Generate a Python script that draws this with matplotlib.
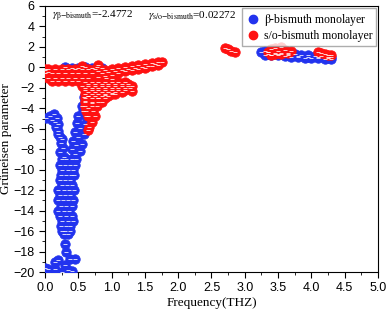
import matplotlib
matplotlib.use("Agg")
import matplotlib.pyplot as plt
from matplotlib.ticker import MultipleLocator
from matplotlib.lines import Line2D

plt.rcParams['mathtext.fontset'] = 'stix'

# ---- beta-bismuth monolayer (blue) ----
beta_x = [0.02, 0.08, 0.13, 0.18, 0.20, 0.19, 0.22, 0.24, 0.27, 0.23, 0.28,
          0.10, 0.15, 0.17, 0.20, 0.25,
          0.58, 0.60, 0.55, 0.57, 0.50, 0.48, 0.52, 0.45, 0.50, 0.42, 0.47, 0.40, 0.45, 0.52, 0.55, 0.58, 0.60, 0.62, 0.65, 0.70,
          0.25, 0.32, 0.40, 0.47,
          0.22, 0.30, 0.38, 0.45,
          0.26, 0.34, 0.42,
          0.24, 0.31, 0.39, 0.44,
          0.22, 0.30, 0.37,
          0.25, 0.33, 0.41,
          0.20, 0.28, 0.36, 0.43,
          0.22, 0.30, 0.38,
          0.20, 0.27, 0.35, 0.42,
          0.24, 0.32, 0.40,
          0.20, 0.28, 0.36,
          0.23, 0.31, 0.40,
          0.26, 0.34, 0.42,
          0.24, 0.32, 0.38,
          0.25, 0.30, 0.37,
          0.28, 0.35,
          0.30, 0.32, 0.20, 0.15, 0.38, 0.45, 0.30, 0.05, 0.15, 0.35, 0.40, 0.00, 0.25,
          0.30, 0.40, 0.50, 0.60, 0.70, 0.78, 0.85, 0.05, 0.00, 0.80, 0.90, 1.00, 0.65, 0.92, 1.00,
          3.25, 3.30, 3.35, 3.45, 3.55, 3.65, 3.75, 3.85, 3.95, 4.05, 4.15, 4.25, 4.30,
          3.30, 3.40, 3.50, 3.60, 3.70, 3.80, 3.90, 4.00, 4.10, 4.20, 4.30,
          3.35, 3.50, 3.65, 3.80, 3.95, 4.10, 4.25]
beta_y = [-4.9, -4.8, -4.6, -4.9, -5.5, -6.2, -6.8, -7.4, -7.9, -8.3, -8.8,
          -5.1, -5.3, -5.8, -6.5, -7.0,
          -2.9, -3.3, -3.8, -4.3, -4.8, -5.4, -5.9, -6.3, -6.8, -7.2, -7.6, -8.0, -8.5, -8.2, -7.5, -6.5, -5.5, -4.8, -4.0, -3.5,
          -9.0, -9.0, -9.0, -9.0,
          -9.5, -9.5, -9.5, -9.5,
          -10.0, -10.0, -10.0,
          -10.5, -10.5, -10.5, -10.5,
          -11.0, -11.0, -11.0,
          -11.5, -11.5, -11.5,
          -12.0, -12.0, -12.0, -12.0,
          -12.5, -12.5, -12.5,
          -13.0, -13.0, -13.0, -13.0,
          -13.5, -13.5, -13.5,
          -14.0, -14.0, -14.0,
          -14.5, -14.5, -14.5,
          -15.0, -15.0, -15.0,
          -15.5, -15.5, -15.5,
          -16.0, -16.0, -16.0,
          -16.3, -16.3,
          -17.3, -18.0, -18.8, -19.0, -18.7, -18.7, -19.3, -19.7, -19.7, -19.8, -19.9, -19.6, -20.0,
          0.0, -0.05, -0.05, 0.0, -0.1, 0.05, -0.1, -0.5, -0.3, -3.0, -2.7, -2.5, -2.8, -1.0, -1.1,
          1.50, 1.55, 1.50, 1.45, 1.40, 1.35, 1.30, 1.25, 1.20, 1.15, 1.10, 1.05, 1.00,
          1.25, 1.20, 1.20, 1.10, 1.05, 1.00, 0.95, 0.90, 0.90, 0.85, 0.80,
          1.35, 1.30, 1.20, 1.15, 1.05, 1.00, 0.95]

# ---- s/o-bismuth monolayer (red) ----
so_x = [0.05, 0.15, 0.25, 0.35, 0.45, 0.55, 0.65, 0.75,
        0.00, 0.10, 0.20, 0.30, 0.40, 0.50, 0.60, 0.70,
        0.05, 0.15, 0.25, 0.35, 0.45, 0.55, 0.65,
        0.10, 0.20, 0.30, 0.40, 0.50,
        0.00, 0.79, 0.55,
        0.80, 0.90, 1.00, 1.10, 1.20, 1.30, 1.40, 1.50, 1.60, 1.70, 1.75,
        0.80, 0.90, 1.00, 1.10, 1.20, 1.30, 1.40, 1.50, 1.60, 1.70,
        0.85, 0.95, 1.05, 1.15, 1.25, 1.35, 1.45, 1.55, 1.65,
        0.60, 0.70, 0.80, 0.90, 1.00, 1.10, 1.20,
        0.65, 0.75, 0.85, 0.95, 1.05, 1.15, 1.25,
        0.55, 0.65, 0.75, 0.85, 0.95, 1.05, 1.15, 1.25, 1.30,
        0.60, 0.70, 0.80, 0.90, 1.00, 1.10, 1.20, 1.28,
        0.60, 0.70, 0.80, 0.90, 1.00, 1.10, 1.20, 1.30,
        0.65, 0.75, 0.85, 0.95, 1.05, 1.15,
        0.60, 0.70, 0.80, 0.90, 1.00, 1.05,
        0.65, 0.75, 0.85, 0.95,
        0.60, 0.70, 0.80, 0.90,
        0.60, 0.70, 0.80, 0.85,
        0.60, 0.70, 0.78,
        0.62, 0.72,
        0.65, 0.75,
        0.70, 0.66, 0.65,
        2.70, 2.75, 2.80, 2.85,
        3.35, 3.40, 3.45, 3.50, 3.55, 3.60, 3.65, 3.70, 3.45, 3.55, 3.40,
        4.10, 4.15, 4.20, 4.25, 4.30]
so_y = [-0.2, -0.2, -0.2, -0.2, -0.2, -0.2, -0.2, -0.2,
        -0.6, -0.6, -0.6, -0.6, -0.6, -0.6, -0.6, -0.6,
        -1.0, -1.0, -1.0, -1.0, -1.0, -1.0, -1.0,
        -1.3, -1.3, -1.3, -1.3, -1.3,
        -0.2, 0.27, 0.1,
        -0.4, -0.3, -0.2, -0.1, 0.0, 0.1, 0.2, 0.3, 0.4, 0.5, 0.5,
        -0.9, -0.8, -0.7, -0.6, -0.4, -0.3, -0.2, -0.05, 0.1, 0.25,
        -0.6, -0.5, -0.4, -0.3, -0.15, -0.05, 0.05, 0.15, 0.3,
        -1.4, -1.4, -1.4, -1.4, -1.4, -1.4, -1.4,
        -1.6, -1.6, -1.6, -1.6, -1.6, -1.6, -1.6,
        -1.8, -1.8, -1.8, -1.8, -1.8, -1.8, -1.8, -1.8, -1.8,
        -2.0, -2.0, -2.0, -2.0, -2.0, -2.0, -2.0, -2.0,
        -2.2, -2.2, -2.2, -2.2, -2.2, -2.2, -2.2, -2.3,
        -2.4, -2.4, -2.4, -2.4, -2.4, -2.4,
        -2.6, -2.6, -2.6, -2.6, -2.6, -2.6,
        -2.8, -2.8, -2.8, -2.8,
        -3.0, -3.0, -3.0, -3.0,
        -3.4, -3.4, -3.4, -3.4,
        -3.8, -3.8, -3.8,
        -4.3, -4.3,
        -4.8, -4.8,
        -5.3, -5.8, -6.1,
        1.9, 1.8, 1.6, 1.5,
        1.5, 1.8, 1.9, 1.6, 2.0, 1.7, 1.4, 1.6, 1.3, 1.3, 1.2,
        1.5, 1.4, 1.3, 1.25, 1.2]

series_labels = [r"$\mathrm{\beta}$-bismuth monolayer", "s/o-bismuth monolayer"]
colors = ["#2233ee", "#ff1111"]

fig = plt.figure(figsize=(3.87, 3.12), dpi=100)
ax = fig.add_axes([0.116, 0.128, 0.861, 0.853])

def draw(x, y, c):
    ax.scatter(x, y, s=46, c=c, edgecolors=c, linewidths=0.6, zorder=3)
    ax.scatter(x, y, s=8, marker='_', c='white', alpha=0.8, linewidths=0.7, zorder=4)

draw(beta_x, beta_y, colors[0])
draw(so_x, so_y, colors[1])

ax.set_xlim(0, 5)
ax.set_ylim(-20, 6)
ax.xaxis.set_major_locator(MultipleLocator(0.5))
ax.xaxis.set_minor_locator(MultipleLocator(0.25))
ax.yaxis.set_major_locator(MultipleLocator(2))
ax.yaxis.set_minor_locator(MultipleLocator(1))
ax.tick_params(which='both', direction='out', top=False, right=False,
               labelsize=9, labelfontfamily='Liberation Sans')
ax.tick_params(which='major', length=4)
ax.tick_params(which='minor', length=2)

ax.set_xlabel("Frequency(THZ)", family='Liberation Serif', fontsize=9.5, labelpad=2)
ax.set_ylabel("Grüneisen parameter", family='Liberation Serif', fontsize=9.5, labelpad=1)

ax.text(0.1, 4.8, r"$\gamma_{\mathrm{\beta{-}bismuth}}$=-2.4772", family='Liberation Serif', fontsize=8)
ax.text(1.55, 4.8, r"$\gamma_{\mathrm{s/o{-}bismuth}}$=0.02272", family='Liberation Serif', fontsize=8)

handles = [Line2D([], [], marker='o', ls='', color=c, markersize=6) for c in colors]
leg = ax.legend(handles, series_labels, loc='upper right', prop={'family': 'Liberation Serif', 'size': 8.5},
                frameon=True, fancybox=False, edgecolor='#999999', borderpad=0.3, handletextpad=0.3,
                labelspacing=0.2, borderaxespad=0.2, handlelength=1.2)

fig.savefig("out.png", dpi=100)
